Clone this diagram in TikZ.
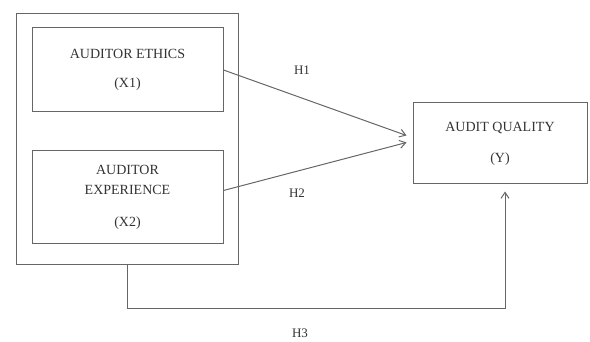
\documentclass[tikz,border=0pt]{standalone}
\usepackage{fontspec}
\setmainfont{Liberation Serif}
\usepackage{tikz}
\usetikzlibrary{arrows.meta}
\usetikzlibrary{calc}
\usetikzlibrary{positioning}

\begin{document}
\begin{tikzpicture}[x=1pt, y=-1pt]
	\useasboundingbox (0,0) rectangle (590,342);
	\begin{scope}[every node/.style={draw=black!60, line width=1pt, text=black!80, align=center,
	              font=\fontsize{14}{20}\selectfont, inner sep=0pt}]
		\node[minimum width=222, minimum height=251] (outer) at (127,139.5) {};
		\node[minimum width=191, minimum height=84] (ethics) at (127.5,70) {AUDITOR ETHICS\\[9pt](X1)};
		\node[minimum width=191, minimum height=93] (experience) at (127.5,197.5) {AUDITOR\\EXPERIENCE\\[12pt](X2)};
		\node[minimum width=174, minimum height=81] (quality) at (500,143.5) {AUDIT QUALITY\\[11pt](Y)};
	\end{scope}

	\coordinate (tip1) at ($(quality.west)+(-6,-8)$);
	\coordinate (tip2) at ($(quality.west)+(-6,-1)$);
	\coordinate (tip3) at ($(quality.south)+(5,7)$);

	\begin{scope}[>={Straight Barb[length=6pt, width=8pt]},
	              every node/.style={text=black!80, font=\fontsize{13}{16}\selectfont, inner sep=1pt},
	              every edge/.style={draw=black!60, line width=1pt}]
		\path (ethics.east) edge[->] (tip1);
		\path ($(experience.east)+(0,-7)$) edge[->] (tip2);
		\draw[draw=black!60, line width=1pt, ->] (outer.south) -- ++(0,43) -| (tip3);
		\node (h1) at (302,70) {H1};
		\node (h2) at (297,193) {H2};
		\node (h3) at (300,333) {H3};
	\end{scope}
\end{tikzpicture}
\end{document}
